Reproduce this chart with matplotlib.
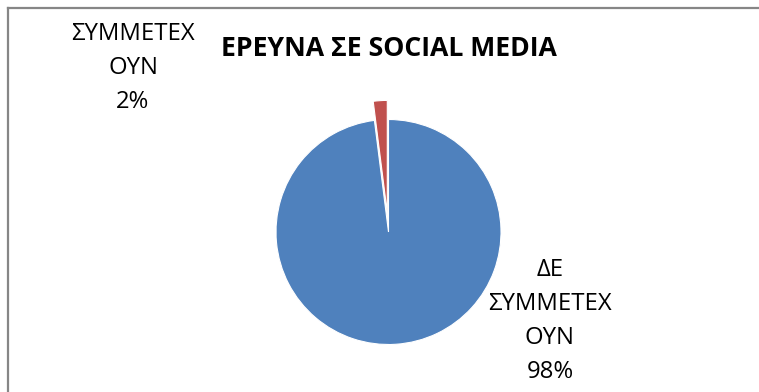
import matplotlib
matplotlib.use("Agg")
import matplotlib.pyplot as plt
from matplotlib.lines import Line2D

plt.rcParams['font.family'] = ['Open Sans', 'DejaVu Sans']

categories = ["ΔΕ ΣΥΜΜΕΤΕΧΟΥΝ", "ΣΥΜΜΕΤΕΧΟΥΝ"]
values = [98, 2]
label_texts = ["ΔΕ\nΣΥΜΜΕΤΕΧ\nΟΥΝ\n98%", "ΣΥΜΜΕΤΕΧ\nΟΥΝ\n2%"]
colors = ["#4F81BD", "#C0504D"]
title = "ΕΡΕΥΝΑ ΣΕ SOCIAL MEDIA"

W, H = 759, 392
fig = plt.figure(figsize=(W / 100, H / 100), dpi=100)
fig.patch.set_facecolor("white")

def px(x, y):
    return x / W, 1 - y / H

# Pie axes centered at (388.5, 232) px with radius 112.5 px
cx, cy, r, half = 388.5, 232, 112.5, 150
ax = fig.add_axes([(cx - half) / W, (H - cy - half) / H, 2 * half / W, 2 * half / H])
ax.pie(values, colors=colors, startangle=90, counterclock=False,
       explode=[0, 0.17], radius=1,
       wedgeprops=dict(edgecolor="white", linewidth=0.8))
lim = half / r
ax.set_xlim(-lim, lim)
ax.set_ylim(-lim, lim)
ax.set_aspect("equal")
ax.axis("off")

# Border (left and top only visible)
fig.add_artist(Line2D([7.5 / W, 7.5 / W], [0, 1 - 7.5 / H], transform=fig.transFigure,
                      color="#868686", linewidth=1.6))
fig.add_artist(Line2D([7.5 / W, 1], [1 - 7.5 / H, 1 - 7.5 / H], transform=fig.transFigure,
                      color="#868686", linewidth=1.6))

# Title
fig.text(*px(388.5, 49), title, ha="center", va="center", fontsize=19.2,
         fontweight="bold", color="black")

# Data labels
fig.text(*px(133, 68), label_texts[1], ha="center", va="center", fontsize=17.2,
         linespacing=1.55, color="black")
fig.text(*px(550, 321), label_texts[0], ha="center", va="center", fontsize=17.2,
         linespacing=1.55, color="black")

fig.savefig("out.png", dpi=100, facecolor="white")
